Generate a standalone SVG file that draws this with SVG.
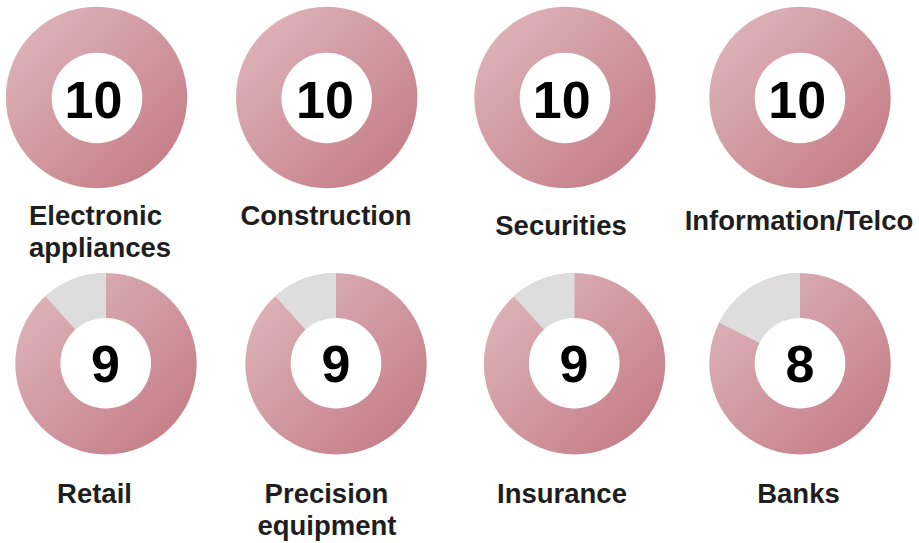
<svg xmlns="http://www.w3.org/2000/svg" width="919" height="543" viewBox="0 0 919 543">
<defs>
<linearGradient id="pink" x1="0" y1="0" x2="1" y2="1">
<stop offset="0" stop-color="#e0bac0"/>
<stop offset="1" stop-color="#c27680"/>
</linearGradient>
</defs>
<style>
.ring{fill:url(#pink)}
.rest{fill:#dddddd}
.hole{fill:#ffffff}
.num{font-family:"Liberation Sans",Arial,sans-serif;font-weight:bold;font-size:52px;fill:#000000;text-anchor:middle}
.lbl{font-family:"Liberation Sans",Arial,sans-serif;font-weight:bold;font-size:27.5px;fill:#1e1e1e;text-anchor:middle}
</style>
<rect width="919" height="543" fill="#ffffff"/>
<g id="electronic-appliances">
<circle class="ring" cx="96.5" cy="97.5" r="90.7"/>
<circle class="hole" cx="97" cy="98" r="45.3"/>
<text class="num" x="93.5" y="118">10</text>
<text class="lbl" x="29" y="225" style="text-anchor:start">Electronic</text>
<text class="lbl" x="29" y="257" style="text-anchor:start">appliances</text>
</g>
<g id="construction">
<circle class="ring" cx="326.7" cy="97.5" r="90.7"/>
<circle class="hole" cx="326.7" cy="98" r="45.3"/>
<text class="num" x="325" y="118">10</text>
<text class="lbl" x="326" y="225">Construction</text>
</g>
<g id="securities">
<circle class="ring" cx="565" cy="97.5" r="90.7"/>
<circle class="hole" cx="565" cy="98" r="45.3"/>
<text class="num" x="561.7" y="118">10</text>
<text class="lbl" x="561" y="235">Securities</text>
</g>
<g id="information-telco">
<circle class="ring" cx="800" cy="97.5" r="90.7"/>
<circle class="hole" cx="800" cy="98" r="45.3"/>
<text class="num" x="797.2" y="118">10</text>
<text class="lbl" x="799" y="230">Information/Telco</text>
</g>
<g id="retail">
<circle class="ring" cx="106" cy="363.7" r="90.7"/>
<path class="rest" d="M106,363.7 L106,273 A90.7,90.7 0 0 0 45.3,296.3 Z"/>
<circle class="hole" cx="105.7" cy="363.2" r="45.3"/>
<text class="num" x="105.5" y="382">9</text>
<text class="lbl" x="94.5" y="503">Retail</text>
</g>
<g id="precision-equipment">
<circle class="ring" cx="336" cy="363.7" r="90.7"/>
<path class="rest" d="M336,363.7 L336,273 A90.7,90.7 0 0 0 275.3,296.3 Z"/>
<circle class="hole" cx="336" cy="363.2" r="45.3"/>
<text class="num" x="336" y="382">9</text>
<text class="lbl" x="326.5" y="503">Precision</text>
<text class="lbl" x="327" y="535">equipment</text>
</g>
<g id="insurance">
<circle class="ring" cx="574.5" cy="363.7" r="90.7"/>
<path class="rest" d="M574.5,363.7 L574.5,273 A90.7,90.7 0 0 0 513.8,296.3 Z"/>
<circle class="hole" cx="574.2" cy="363.2" r="45.3"/>
<text class="num" x="574" y="382">9</text>
<text class="lbl" x="562" y="503">Insurance</text>
</g>
<g id="banks">
<circle class="ring" cx="800" cy="363.7" r="90.7"/>
<path class="rest" d="M800,363.7 L800,273 A90.7,90.7 0 0 0 719.2,322.5 Z"/>
<circle class="hole" cx="800" cy="363.2" r="45.3"/>
<text class="num" x="800" y="382">8</text>
<text class="lbl" x="798.5" y="503">Banks</text>
</g>
<g id="connectors"/>
</svg>
